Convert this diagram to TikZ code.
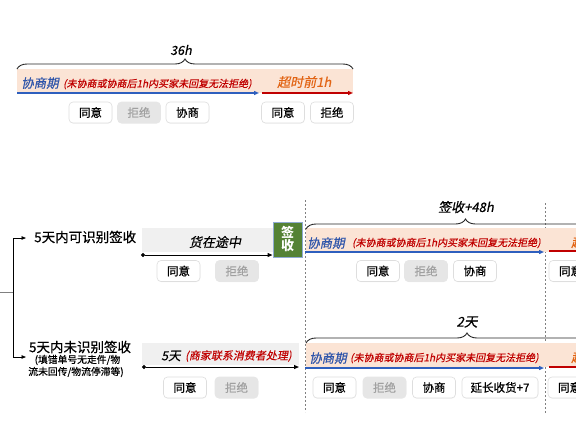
\documentclass[tikz,border=0pt]{standalone}
\usepackage{fontspec}
\setmainfont{Noto Sans CJK SC}
\newfontfamily\itf{Noto Sans CJK SC}[FakeSlant=0.2,FakeBold=0.4]
\newfontfamily\mdf{Noto Sans CJK SC}[FakeBold=0.5]
\usetikzlibrary{arrows.meta,decorations.pathreplacing,shadows}
\definecolor{bandpink}{RGB}{251,228,213}
\definecolor{bandgrey}{RGB}{240,240,240}
\definecolor{blueT}{RGB}{47,85,170}
\definecolor{blueL}{RGB}{46,95,190}
\definecolor{redT}{RGB}{192,0,0}
\definecolor{orangeT}{RGB}{226,100,20}
\definecolor{greenbox}{RGB}{84,130,53}
\definecolor{greenedge}{RGB}{143,170,210}
\definecolor{btnborder}{RGB}{222,222,222}
\definecolor{btngrey}{RGB}{230,230,230}
\definecolor{btntext}{RGB}{160,160,160}
\newcommand{\myfs}[1]{\fontsize{#1}{#1}\selectfont}
\tikzset{
  btn/.style={draw=btnborder, line width=0.6pt, fill=white, rounded corners=4pt,
    minimum width=43pt, minimum height=21pt, inner sep=0pt, font=\mdf\myfs{11.5},
    drop shadow={shadow xshift=0.3pt, shadow yshift=-0.6pt, opacity=0.10}},
  btnoff/.style={btn, fill=btngrey, draw=btngrey, text=btntext},
  band/.style={fill=bandpink, draw=none},
  gband/.style={fill=bandgrey, draw=none},
  bluearr/.style={draw=blueL, line width=1.2pt, -{Triangle[length=5pt,width=4pt]}},
  redarr/.style={draw=redT, line width=1.2pt, -{Triangle[length=5pt,width=4pt]}},
  redline/.style={draw=redT, line width=1.2pt},
  blackarr/.style={draw=black, line width=1pt, {Circle[length=4pt]}-{Triangle[length=5pt,width=4pt]}},
  treearr/.style={draw=black, line width=0.8pt, -{Triangle[length=4.5pt,width=3.5pt]}},
  vdash/.style={draw=gray, line width=0.6pt, dash pattern=on 2pt off 2pt},
  brc/.style={draw=black!85, decorate, decoration={brace, amplitude=10pt}, line width=0.9pt},
  lbl/.style={inner sep=0pt, anchor=west},
  ctr/.style={inner sep=0pt, anchor=center}
}
\begin{document}
\begin{tikzpicture}[x=1pt,y=-1pt]
\useasboundingbox (0,0) rectangle (576,432);
\clip (0,0) rectangle (576,432);
\fill[white] (0,0) rectangle (576,432);

% ---------- top section ----------
\fill[band] (17,69) rectangle (353,93);
\coordinate (b1s) at (17,69);
\coordinate (b1e) at (353,69);
\draw[brc] (b1s) -- (b1e);
\node[ctr, font=\itf\myfs{12.5}] (t36) at (181,50) {36h};
\node[lbl, font=\itf\myfs{12.5}, text=blueT] (tq) at (21,83) {协商期};
\node[lbl, font=\itf\myfs{10}, text=redT] (tqr) at (63,84) {(未协商或协商后1h内买家未回复无法拒绝)};
\node[lbl, font=\itf\myfs{13}, text=orangeT] (tcs) at (277,82) {超时前1h};
\coordinate (ta1) at (17,93);
\coordinate (ta2) at (259,93);
\coordinate (ta3) at (262,93);
\coordinate (ta4) at (353,93);
\draw[bluearr] (ta1) -- (ta2);
\draw[redarr] (ta3) -- (ta4);
\node[btn] (tb1) at (90.5,112.5) {同意};
\node[btnoff] (tb2) at (139,112.5) {拒绝};
\node[btn] (tb3) at (187.5,112.5) {协商};
\node[btn] (tb4) at (283,112.5) {同意};
\node[btn] (tb5) at (332,112.5) {拒绝};

% ---------- left tree ----------
\coordinate (lt0) at (0,292);
\coordinate (lt1) at (13,292);
\coordinate (ltu) at (13,238);
\coordinate (ltd) at (13,357);
\coordinate (ltua) at (26,238);
\coordinate (ltda) at (26,357);
\draw[gray, line width=0.8pt] (lt0) -- (lt1);
\draw[black, line width=0.8pt] (ltu) -- (ltd);
\draw[treearr] (ltu) -- (ltua);
\draw[treearr] (ltd) -- (ltda);
\node[lbl, font=\mdf\myfs{13.5}] (l1) at (34,237) {5天内可识别签收};
\node[ctr, font=\mdf\myfs{13.5}] (l2) at (80,347) {5天内未识别签收};
\node[ctr, font=\mdf\myfs{9.8}] (l3) at (77.5,360) {(填错单号无走件/物};
\node[ctr, font=\mdf\myfs{9.8}] (l4) at (76,372) {流未回传/物流停滞等)};

% ---------- dashed separators ----------
\coordinate (d1a) at (305,200);
\coordinate (d1b) at (305,412);
\coordinate (d2a) at (545,203);
\coordinate (d2b) at (545,414);
\draw[vdash] (d1a) -- (d1b);
\draw[vdash] (d2a) -- (d2b);

% ---------- middle section ----------
\fill[gband] (142,228) rectangle (273,252);
\node[ctr, font=\itf\myfs{13}] (mtr) at (215,242) {货在途中};
\coordinate (ma1) at (141,255);
\node[draw=greenedge, line width=1pt, fill=greenbox, text=white, font=\bfseries\myfs{13},
  align=center, minimum width=29pt, minimum height=35pt, inner sep=0pt] (sign) at (287.5,239.5)
  {\fontsize{13}{16}\selectfont 签\\收};
\draw[blackarr] (ma1) -- (ma1 -| sign.west);
\node[btn] (mb1) at (178.5,271) {同意};
\node[btnoff] (mb2) at (237,271) {拒绝};

\fill[band] (306,228) rectangle (600,252);
\coordinate (b2s) at (306,229);
\coordinate (b2e) at (625,229);
\draw[brc] (b2s) -- (b2e);
\node[ctr, font=\itf\myfs{13}] (m48) at (466,207) {签收+48h};
\node[lbl, font=\itf\myfs{12.5}, text=blueT] (mq) at (307,243) {协商期};
\node[lbl, font=\itf\myfs{10}, text=redT] (mqr) at (352,243) {(未协商或协商后1h内买家未回复无法拒绝)};
\node[lbl, font=\itf\myfs{13}, text=orangeT] (mcs) at (571,242) {超时前1h};
\coordinate (mb_a) at (305,252);
\coordinate (mb_b) at (544,252);
\coordinate (mr_a) at (549,251);
\coordinate (mr_b) at (620,251);
\draw[bluearr] (mb_a) -- (mb_b);
\draw[redline] (mr_a) -- (mr_b);
\node[btn] (mb3) at (378,271) {同意};
\node[btnoff] (mb4) at (426,271) {拒绝};
\node[btn] (mb5) at (475,271) {协商};
\node[btn] (mb6) at (570.5,271) {同意};

% ---------- bottom section ----------
\fill[gband] (142,343) rectangle (299,365);
\node[lbl, font=\itf\myfs{12.5}] (b5) at (161,356) {5天};
\node[lbl, font=\itf\myfs{11}, text=redT] (b5r) at (185,356) {(商家联系消费者处理)};
\coordinate (ba1) at (142,367);
\coordinate (ba2) at (299,367);
\draw[blackarr] (ba1) -- (ba2);
\node[btn] (bb1) at (185,387.5) {同意};
\node[btnoff] (bb2) at (236.5,387.5) {拒绝};

\fill[band] (306,343) rectangle (600,367);
\coordinate (b3s) at (306,343);
\coordinate (b3e) at (628,343);
\draw[brc] (b3s) -- (b3e);
\node[ctr, font=\itf\myfs{13.5}] (b2d) at (467,322) {2天};
\node[lbl, font=\itf\myfs{12.5}, text=blueT] (bq) at (309,358) {协商期};
\node[lbl, font=\itf\myfs{10}, text=redT] (bqr) at (350,358) {(未协商或协商后1h内买家未回复无法拒绝)};
\node[lbl, font=\itf\myfs{13}, text=orangeT] (bcs) at (571,357) {超时前1h};
\coordinate (bl_a) at (305,368);
\coordinate (bl_b) at (544,368);
\coordinate (br_a) at (549,367);
\coordinate (br_b) at (620,367);
\draw[bluearr] (bl_a) -- (bl_b);
\draw[redline] (br_a) -- (br_b);
\node[btn] (bb3) at (334.5,387.5) {同意};
\node[btnoff] (bb4) at (384.5,387.5) {拒绝};
\node[btn] (bb5) at (434,387.5) {协商};
\node[btn, minimum width=76pt] (bb6) at (500,387.5) {延长收货+7};
\node[btn] (bb7) at (569.5,387.5) {同意};
\end{tikzpicture}
\end{document}
